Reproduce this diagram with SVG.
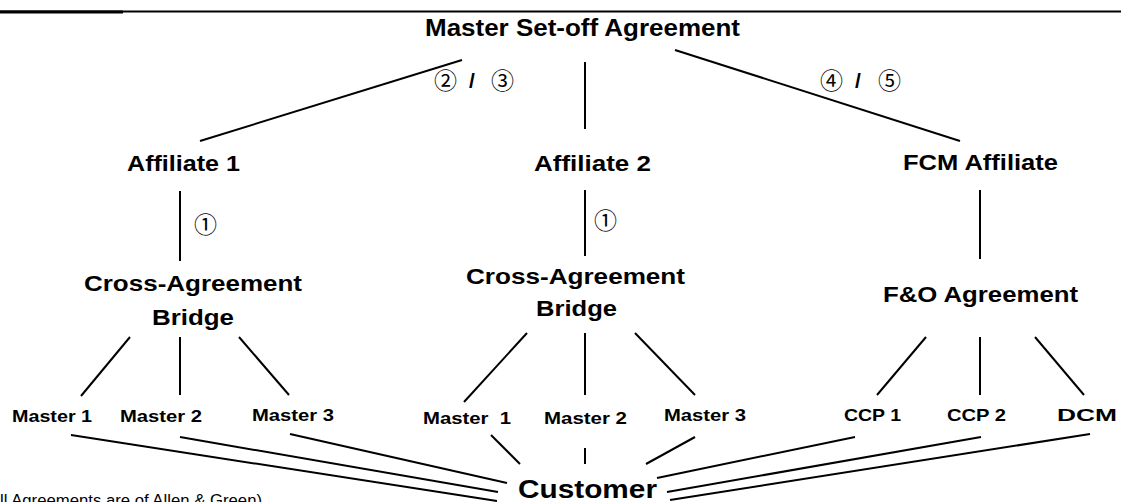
<svg xmlns="http://www.w3.org/2000/svg" width="1121" height="502" viewBox="0 0 1121 502">
<style>
.lbl{font-family:"Liberation Sans",Arial,sans-serif;font-weight:bold;fill:#000}
.big{font-size:23px}
.mid{font-size:22px}
.sm{font-size:17px}
.cust{font-size:26px}
.num{font-family:"Noto Sans CJK JP","DejaVu Sans",sans-serif;font-size:23px;fill:#000}
.slash{font-family:"Liberation Sans",Arial,sans-serif;font-weight:bold;font-size:21px;fill:#000}
.note{font-family:"Liberation Sans",Arial,sans-serif;font-size:16px;fill:#000}
.ln{stroke:#000;stroke-width:2;fill:none}
</style>
<rect width="1121" height="502" fill="#fff"/>
<g id="rule">
<line x1="0" y1="11.5" x2="1121" y2="11.5" stroke="#000" stroke-width="2"/>
<line x1="0" y1="12" x2="123" y2="12" stroke="#000" stroke-width="3"/>
</g>
<g id="connectors" class="ln">
<line x1="462" y1="60" x2="200" y2="141"/>
<line x1="585" y1="62" x2="585" y2="129"/>
<line x1="675" y1="50" x2="960" y2="141"/>
<line x1="180" y1="191" x2="180" y2="261"/>
<line x1="585" y1="190" x2="585" y2="256"/>
<line x1="980" y1="190" x2="980" y2="259"/>
<line x1="130" y1="337" x2="81" y2="396"/>
<line x1="180" y1="337" x2="180" y2="395"/>
<line x1="239" y1="337" x2="289" y2="395"/>
<line x1="527" y1="333" x2="464" y2="402"/>
<line x1="585" y1="333" x2="585" y2="395"/>
<line x1="635" y1="333" x2="695" y2="395"/>
<line x1="926" y1="337" x2="877" y2="395"/>
<line x1="980" y1="337" x2="980" y2="395"/>
<line x1="1035" y1="337" x2="1084" y2="395"/>
<line x1="71" y1="435" x2="497" y2="501"/>
<line x1="180" y1="437" x2="498" y2="492"/>
<line x1="290" y1="434" x2="507" y2="483"/>
<line x1="491" y1="435" x2="520" y2="464"/>
<line x1="585" y1="448" x2="585" y2="464"/>
<line x1="695" y1="437" x2="646" y2="464"/>
<line x1="855" y1="437" x2="657" y2="478"/>
<line x1="981" y1="437" x2="667" y2="492"/>
<line x1="1090" y1="434" x2="670" y2="500"/>
</g>
<g id="edge-labels">
<text class="num" x="434" y="89">②</text>
<text class="slash" x="469" y="88">/</text>
<text class="num" x="491" y="89">③</text>
<text class="num" x="820" y="89">④</text>
<text class="slash" x="855" y="88">/</text>
<text class="num" x="878" y="89">⑤</text>
<text class="num" x="194" y="233">①</text>
<text class="num" x="594" y="229">①</text>
</g>
<g id="master-setoff"><text class="lbl big" x="425" y="36" textLength="315" lengthAdjust="spacingAndGlyphs">Master Set-off Agreement</text></g>
<g id="affiliate1"><text class="lbl mid" x="127" y="171" textLength="113" lengthAdjust="spacingAndGlyphs">Affiliate 1</text></g>
<g id="affiliate2"><text class="lbl mid" x="534" y="171" textLength="117" lengthAdjust="spacingAndGlyphs">Affiliate 2</text></g>
<g id="fcm-affiliate"><text class="lbl mid" x="903" y="170" textLength="155" lengthAdjust="spacingAndGlyphs">FCM Affiliate</text></g>
<g id="bridge1">
<text class="lbl mid" x="84" y="291" textLength="218" lengthAdjust="spacingAndGlyphs">Cross-Agreement</text>
<text class="lbl mid" x="152" y="325" textLength="82" lengthAdjust="spacingAndGlyphs">Bridge</text>
</g>
<g id="bridge2">
<text class="lbl mid" x="466" y="284" textLength="219" lengthAdjust="spacingAndGlyphs">Cross-Agreement</text>
<text class="lbl mid" x="536" y="316" textLength="81" lengthAdjust="spacingAndGlyphs">Bridge</text>
</g>
<g id="fo-agreement"><text class="lbl mid" x="883" y="302" textLength="195" lengthAdjust="spacingAndGlyphs">F&amp;O Agreement</text></g>
<g id="a1-master1"><text class="lbl sm" x="12" y="422" textLength="80" lengthAdjust="spacingAndGlyphs">Master 1</text></g>
<g id="a1-master2"><text class="lbl sm" x="120" y="422" textLength="82" lengthAdjust="spacingAndGlyphs">Master 2</text></g>
<g id="a1-master3"><text class="lbl sm" x="252" y="421" textLength="82" lengthAdjust="spacingAndGlyphs">Master 3</text></g>
<g id="a2-master1"><text class="lbl sm" x="423" y="424" textLength="88" lengthAdjust="spacingAndGlyphs" xml:space="preserve">Master  1</text></g>
<g id="a2-master2"><text class="lbl sm" x="544" y="424" textLength="83" lengthAdjust="spacingAndGlyphs">Master 2</text></g>
<g id="a2-master3"><text class="lbl sm" x="664" y="421" textLength="82" lengthAdjust="spacingAndGlyphs">Master 3</text></g>
<g id="ccp1"><text class="lbl sm" x="844" y="421" textLength="57" lengthAdjust="spacingAndGlyphs">CCP 1</text></g>
<g id="ccp2"><text class="lbl sm" x="947" y="421" textLength="59" lengthAdjust="spacingAndGlyphs">CCP 2</text></g>
<g id="dcm"><text class="lbl sm" x="1057" y="421" textLength="60" lengthAdjust="spacingAndGlyphs">DCM</text></g>
<g id="customer"><text class="lbl cust" x="518" y="498" textLength="139" lengthAdjust="spacingAndGlyphs">Customer</text></g>
<text class="note" x="0" y="506" textLength="262" lengthAdjust="spacingAndGlyphs">ll Agreements are of Allen &amp; Green)</text>
</svg>
